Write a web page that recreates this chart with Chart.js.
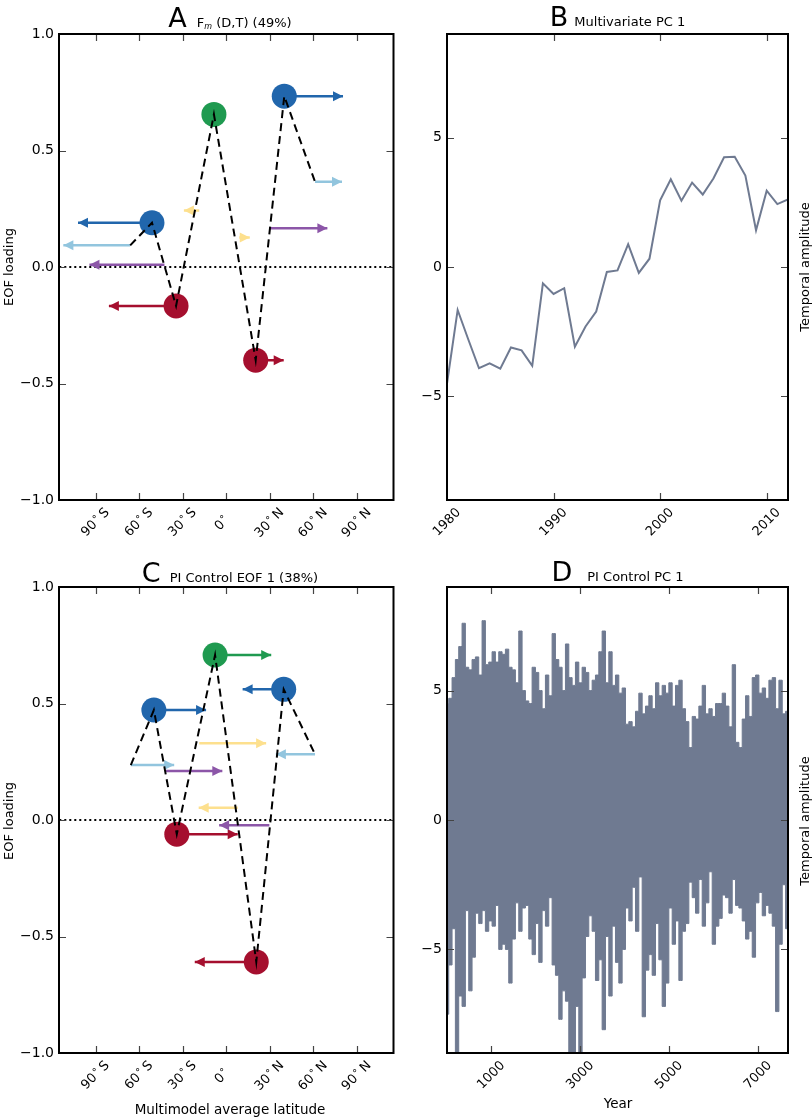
<!DOCTYPE html>
<html>
<head>
<meta charset="utf-8">
<script src="https://cdn.jsdelivr.net/npm/chart.js@4.4.1/dist/chart.umd.min.js"></script>
<style>
  html, body { margin:0; padding:0; background:#fff; }
  body { position:relative; width:812px; height:1117px; overflow:hidden; font-family:"DejaVu Sans", sans-serif; color:#000; }
  canvas { position:absolute; display:block; }
  .title { position:absolute; display:flex; justify-content:center; align-items:baseline; white-space:nowrap; line-height:27px; }
  .big { font-size:27px; }
  .small { font-size:13px; }
  .small sub { font-size:8px; font-style:italic; vertical-align:-2px; line-height:0; }
  .vlab { position:absolute; font-size:13px; line-height:15px; white-space:nowrap; transform:translate(-50%,-50%) rotate(-90deg); }
  .hlab { position:absolute; font-size:13.5px; line-height:14px; white-space:nowrap; transform:translateX(-50%); }
</style>
</head>
<body>
<canvas id="cA" width="406" height="560" style="left:0;top:0"></canvas>
<canvas id="cB" width="406" height="560" style="left:406px;top:0"></canvas>
<canvas id="cC" width="406" height="557" style="left:0;top:560px"></canvas>
<canvas id="cD" width="406" height="557" style="left:406px;top:560px"></canvas>

<div class="title" style="left:59px;width:342px;top:4px"><span class="big" style="margin-right:10px">A</span><span class="small">F<sub>m</sub> (D,T) (49%)</span></div>
<div class="title" style="left:447px;width:341px;top:3px"><span class="big" style="margin-right:6px">B</span><span class="small">Multivariate PC 1</span></div>
<div class="title" style="left:59px;width:342px;top:559px"><span class="big" style="margin-right:9px">C</span><span class="small">PI Control EOF 1 (38%)</span></div>
<div class="title" style="left:447px;width:341px;top:558px"><span class="big" style="margin-right:15px">D</span><span class="small">PI Control PC 1</span></div>

<div class="vlab" style="left:8px;top:267px">EOF loading</div>
<div class="vlab" style="left:8px;top:821px">EOF loading</div>
<div class="vlab" style="left:804px;top:267px">Temporal amplitude</div>
<div class="vlab" style="left:804px;top:821px">Temporal amplitude</div>
<div class="hlab" style="left:230px;top:1102px">Multimodel average latitude</div>
<div class="hlab" style="left:618px;top:1096px">Year</div>

<script>
// ================= DATA =================
const latTicks    = [-90, -60, -30, 0, 30, 60, 90];
const latTickText = ['90', '60', '30', '0', '30', '60', '90'];
const latTickHemi = ['S', 'S', 'S', '', 'N', 'N', 'N'];
const loadingTicks = [-1, -0.5, 0, 0.5, 1];

// Panel A : Fm (D,T) EOF loadings
const aCircleLat  = [-51.1, -34.5, -8.4, 20.4, 40.1];
const aCircleLoad = [0.19, -0.167, 0.655, -0.40, 0.733];
const aCircleVar  = ['B', 'R', 'G', 'R', 'B'];
const aArrowFrom  = [-51.1, -66.1, -42.5, -18.5, 9.1, 29.8, 61.3, 40.1, -34.5, 20.4];
const aArrowTo    = [-102.1, -112.2, -94.2, -29.1, 16.3, 69.8, 79.9, 80.6, -80.8, 39.7];
const aArrowLoad  = [0.19, 0.093, 0.01, 0.243, 0.127, 0.166, 0.366, 0.733, -0.167, -0.40];
const aArrowVar   = ['B', 'LB', 'P', 'Y', 'Y', 'P', 'LB', 'B', 'R', 'R'];
const aPathLat    = [-66.1, -51.1, -34.5, -8.4, 20.4, 40.1, 61.3];
const aPathLoad   = [0.093, 0.19, -0.167, 0.655, -0.40, 0.733, 0.366];

// Panel C : PI Control EOF 1 loadings
const cCircleLat  = [-49.8, -34.0, -7.6, 20.8, 39.7];
const cCircleLoad = [0.472, -0.061, 0.708, -0.609, 0.561];
const cCircleVar  = ['B', 'R', 'G', 'R', 'B'];
const cArrowFrom  = [-49.8, -65.7, -41.5, -18.5, 8.0, 29.8, 61.3, 39.7, -34.0, 20.8, -7.6];
const cArrowTo    = [-13.8, -35.8, -2.6, 27.6, -18.9, -4.8, 34.3, 11.4, 8.0, -21.6, 31.1];
const cArrowLoad  = [0.472, 0.236, 0.21, 0.329, 0.053, -0.023, 0.282, 0.561, -0.061, -0.609, 0.708];
const cArrowVar   = ['B', 'LB', 'P', 'Y', 'Y', 'P', 'LB', 'B', 'R', 'R', 'G'];
const cPathLat    = [-65.7, -49.8, -34.0, -7.6, 20.8, 39.7, 61.3];
const cPathLoad   = [0.236, 0.472, -0.061, 0.708, -0.609, 0.561, 0.282];

// Panel B : Multivariate PC 1
const bYears = [1980,1981,1982,1983,1984,1985,1986,1987,1988,1989,1990,1991,1992,1993,1994,1995,1996,
                1997,1998,1999,2000,2001,2002,2003,2004,2005,2006,2007,2008,2009,2010,2011,2012];
const bValues = [-4.5,-1.66,-2.8,-3.91,-3.72,-3.93,-3.11,-3.22,-3.82,-0.63,-1.04,-0.82,-3.08,-2.30,-1.72,
                 -0.19,-0.13,0.88,-0.23,0.32,2.58,3.39,2.56,3.26,2.80,3.42,4.24,4.26,3.53,1.42,2.95,2.43,2.61];
const bTickYears = [1980, 1990, 2000, 2010];
const pcTicks = [-5, 0, 5];

// Panel D : PI Control PC 1 (upper / lower envelope read every ~75 model years)
const dStartYear = 6, dYearStep = 75;
const dUpper = [4.5,4.7,5.5,6.2,6.7,7.6,5.9,5.8,6.2,6.3,5.6,7.7,6.0,6.1,6.5,6.1,6.5,6.4,6.6,5.9,
                5.8,5.3,7.3,5.0,4.6,4.5,5.9,5.7,5.0,4.3,5.6,4.8,7.2,6.2,5.9,5.0,6.8,5.5,5.2,6.1,
                5.3,5.9,5.7,5.0,5.4,5.6,6.5,7.3,5.3,6.5,5.2,5.6,4.9,5.1,3.7,3.8,3.6,4.2,4.9,4.1,
                4.4,4.8,4.3,5.3,4.8,5.2,4.9,5.3,4.4,5.2,5.4,4.3,3.8,2.8,4.0,3.9,4.4,5.2,4.1,4.3,
                4.0,4.5,4.5,4.9,4.4,3.6,6.0,3.0,2.8,3.9,4.8,4.0,5.5,5.6,4.9,5.1,4.7,5.4,5.5,4.3,
                5.4,4.1,4.2];
const dLower = [-7.5,-5.6,-4.2,-9.5,-6.8,-7.2,-3.5,-6.6,-5.3,-3.6,-4.0,-3.5,-4.3,-3.9,-4.1,-3.3,-5.0,-4.8,-5.0,-6.3,
                -4.6,-3.2,-4.3,-3.4,-3.3,-4.6,-5.2,-4.0,-5.5,-3.5,-4.1,-3.0,-5.6,-6.0,-7.7,-6.6,-7.0,-9.2,-9.6,-7.2,
                -9.4,-6.1,-4.5,-3.7,-4.3,-6.2,-5.4,-8.1,-4.5,-6.8,-4.1,-5.5,-6.3,-5.0,-3.4,-3.9,-2.6,-4.3,-2.2,-7.6,
                -5.8,-5.2,-6.0,-4.0,-5.4,-7.2,-6.3,-3.4,-4.8,-3.9,-6.2,-4.3,-4.0,-2.4,-3.0,-3.6,-2.3,-4.1,-3.2,-2.0,
                -4.8,-4.1,-3.8,-2.9,-3.0,-3.6,-2.3,-3.3,-3.4,-3.9,-4.6,-4.3,-5.3,-3.2,-2.8,-3.7,-3.3,-3.6,-4.1,-7.4,
                -4.8,-2.5,-4.2];
const dTickYears = [1000, 3000, 5000, 7000];

// ================= STYLE =================
const FONT = '"DejaVu Sans", sans-serif';
const SLATE = '#6f7a91';
const VAR_COLORS = { B:'#2166ac', LB:'#92c5de', P:'#8c56a8', Y:'#fde08e', R:'#a50f2e', G:'#1f9a50' };
Chart.defaults.font.family = FONT;

const fmtLoad = v => (v < 0 ? '\u2212' : '') + Math.abs(v).toFixed(1);
const fmtInt  = v => (v < 0 ? '\u2212' : '') + Math.abs(v);

function latSegs(num, hemi) {
  return [{text:num, size:13, gap:1}, {text:'\u00B0', size:10, gap:3, dy:-2}, {text:hemi || 'S', size:13, hidden:!hemi}];
}
const X_LABELS = {
  cA: latTickText.map((t, i) => latSegs(t, latTickHemi[i])),
  cC: latTickText.map((t, i) => latSegs(t, latTickHemi[i])),
  cB: bTickYears.map(y => [{text:String(y), size:13}]),
  cD: dTickYears.map(y => [{text:String(y), size:13}])
};

const panelPlugin = {
  id: 'panel',
  afterDatasetDraw(chart, args) {
    const ds = chart.data.datasets[args.index];
    if (!ds.arrowHead) return;
    const ctx = chart.ctx, xs = chart.scales.x, ys = chart.scales.y;
    const p0 = ds.data[0], p1 = ds.data[1];
    const x0 = xs.getPixelForValue(p0.x), x1 = xs.getPixelForValue(p1.x), y1 = ys.getPixelForValue(p1.y);
    const dir = x1 >= x0 ? 1 : -1;
    const L = 10, H = 5;
    ctx.save();
    ctx.beginPath();
    ctx.moveTo(x1, y1);
    ctx.lineTo(x1 - dir * L, y1 - H);
    ctx.lineTo(x1 - dir * L, y1 + H);
    ctx.closePath();
    ctx.fillStyle = ds.borderColor;
    ctx.fill();
    ctx.restore();
  },
  afterDraw(chart) {
    const ctx = chart.ctx, a = chart.chartArea, xs = chart.scales.x, ys = chart.scales.y;
    ctx.save();
    ctx.strokeStyle = '#444'; ctx.lineWidth = 1.2;
    ctx.beginPath();
    xs.ticks.forEach(t => {
      const p = Math.round(xs.getPixelForValue(t.value)) + 0.5;
      if (p < a.left + 2 || p > a.right - 2) return;
      ctx.moveTo(p, a.bottom); ctx.lineTo(p, a.bottom - 7);
      ctx.moveTo(p, a.top); ctx.lineTo(p, a.top + 7);
    });
    ys.ticks.forEach(t => {
      const p = Math.round(ys.getPixelForValue(t.value)) + 0.5;
      if (p < a.top + 2 || p > a.bottom - 2) return;
      ctx.moveTo(a.left, p); ctx.lineTo(a.left + 7, p);
      ctx.moveTo(a.right, p); ctx.lineTo(a.right - 7, p);
    });
    ctx.stroke();
    ctx.strokeStyle = '#000'; ctx.lineWidth = 2;
    ctx.strokeRect(a.left, a.top, a.right - a.left, a.bottom - a.top);

    const labels = X_LABELS[chart.canvas.id] || [];
    ctx.fillStyle = '#000'; ctx.textBaseline = 'middle'; ctx.textAlign = 'left';
    xs.ticks.forEach((t, i) => {
      const segs = labels[i]; if (!segs) return;
      let w = 0;
      const widths = segs.map(s => { ctx.font = s.size + 'px ' + FONT; const m = ctx.measureText(s.text).width; w += m + (s.gap || 0); return m; });
      const h = 13;
      const cx = xs.getPixelForValue(t.value);
      const cy = a.bottom + 6 + (w + h) * Math.SQRT1_2 / 2;
      ctx.save();
      ctx.translate(cx, cy);
      ctx.rotate(-Math.PI / 4);
      let px = -w / 2;
      segs.forEach((s, j) => {
        if (!s.hidden) { ctx.font = s.size + 'px ' + FONT; ctx.fillText(s.text, px, s.dy || 0); }
        px += widths[j] + (s.gap || 0);
      });
      ctx.restore();
    });
    ctx.restore();
  }
};

function makeScales(o) {
  return {
    x: { type:'linear', min:o.xmin, max:o.xmax,
         grid:{display:false, drawTicks:false}, border:{display:false},
         ticks:{display:false},
         afterBuildTicks: s => { s.ticks = o.xticks.map(v => ({value:v})); },
         afterFit: s => { s.height = o.xh; } },
    y: { type:'linear', min:o.ymin, max:o.ymax,
         grid:{display:false, drawTicks:false}, border:{display:false},
         ticks:{ autoSkip:false, padding:5, color:'#000', font:{family:FONT, size:14}, callback: v => o.yfmt(v) },
         afterBuildTicks: s => { s.ticks = o.yticks.map(v => ({value:v})); },
         afterFit: s => { s.width = o.yw; } }
  };
}

function baseOptions(pad, scales) {
  return {
    responsive:false, animation:false, events:[],
    layout:{ padding: pad },
    plugins:{ legend:{display:false}, tooltip:{enabled:false} },
    scales
  };
}

function eofChart(id, pad, xh, circLat, circLoad, circVar, arrFrom, arrTo, arrLoad, arrVar, pathLat, pathLoad) {
  const datasets = [];
  datasets.push({ data:[{x:-115, y:0}, {x:115, y:0}], showLine:true, borderColor:'#000', borderWidth:2,
                  borderDash:[2, 3], pointRadius:0, order:6 });
  arrFrom.forEach((f, i) => datasets.push({
    data:[{x:f, y:arrLoad[i]}, {x:arrTo[i], y:arrLoad[i]}], showLine:true, arrowHead:true,
    borderColor:VAR_COLORS[arrVar[i]], borderWidth:2.5, borderCapStyle:'butt', pointRadius:0, order:5 }));
  datasets.push({ data:circLat.map((x, i) => ({x, y:circLoad[i]})), showLine:false, pointRadius:12.5,
                  pointBackgroundColor:circVar.map(k => VAR_COLORS[k]), pointBorderWidth:0, order:3 });
  datasets.push({ data:pathLat.map((x, i) => ({x, y:pathLoad[i]})), showLine:true, borderColor:'#000',
                  borderWidth:2, borderDash:[8, 5], pointRadius:0, order:2 });
  return new Chart(document.getElementById(id), {
    type:'line',
    data:{ datasets },
    options: baseOptions(pad, makeScales({ xmin:-115.2, xmax:115.4, xticks:latTicks, xh,
                                             ymin:-1, ymax:1, yticks:loadingTicks, yw:59, yfmt:fmtLoad })),
    plugins:[panelPlugin]
  });
}

eofChart('cA', {top:34, right:5, left:0, bottom:0}, 60,
         aCircleLat, aCircleLoad, aCircleVar, aArrowFrom, aArrowTo, aArrowLoad, aArrowVar, aPathLat, aPathLoad);
eofChart('cC', {top:27, right:5, left:0, bottom:0}, 64,
         cCircleLat, cCircleLoad, cCircleVar, cArrowFrom, cArrowTo, cArrowLoad, cArrowVar, cPathLat, cPathLoad);

new Chart(document.getElementById('cB'), {
  type:'line',
  data:{ datasets:[{ data:bYears.map((x, i) => ({x, y:bValues[i]})), borderColor:SLATE, borderWidth:2,
                     pointRadius:0, fill:false }] },
  options: baseOptions({top:34, right:24, left:0, bottom:0},
                       makeScales({ xmin:1980, xmax:2012, xticks:bTickYears, xh:60,
                                    ymin:-9, ymax:9, yticks:pcTicks, yw:41, yfmt:fmtInt })),
  plugins:[panelPlugin]
});

const dYears = dUpper.map((_, i) => dStartYear + i * dYearStep);
new Chart(document.getElementById('cD'), {
  type:'line',
  data:{ datasets:[
    { data:dYears.map((x, i) => ({x, y:dUpper[i]})), borderColor:SLATE, backgroundColor:SLATE,
      borderWidth:1, pointRadius:0, stepped:'middle', fill:'+1' },
    { data:dYears.map((x, i) => ({x, y:dLower[i]})), borderColor:SLATE, borderWidth:1, pointRadius:0,
      stepped:'middle', fill:false }
  ] },
  options: baseOptions({top:27, right:24, left:0, bottom:0},
                       makeScales({ xmin:5, xmax:7673, xticks:dTickYears, xh:64,
                                    ymin:-9, ymax:9, yticks:pcTicks, yw:41, yfmt:fmtInt })),
  plugins:[panelPlugin]
});
</script>
</body>
</html>
